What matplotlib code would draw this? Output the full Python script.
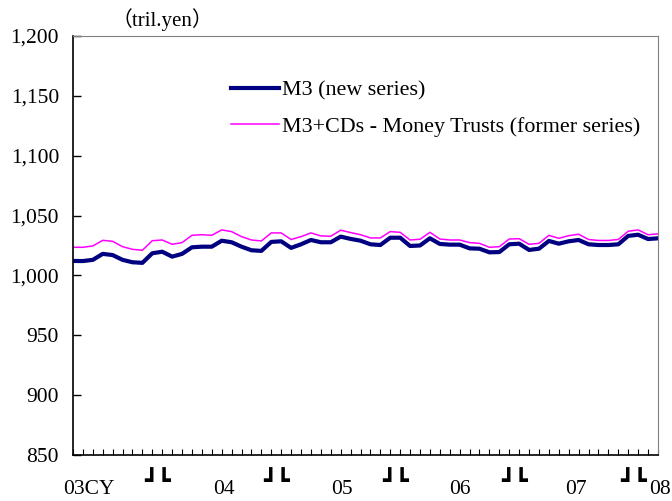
import matplotlib
matplotlib.use("Agg")
import matplotlib.pyplot as plt
from matplotlib.ticker import FuncFormatter, FixedLocator

plt.rcParams['font.family'] = ['Liberation Serif', 'Noto Sans CJK JP', 'DejaVu Sans']

# monthly, Apr 2003 - Mar 2008 (tril. yen)
m3_new = [1012.1, 1012.0, 1013.0, 1018.0, 1017.0, 1013.0, 1011.0, 1010.5, 1018.5, 1019.8,
          1015.7, 1018.0, 1023.5, 1024.0, 1024.0, 1029.0, 1027.7, 1024.0, 1021.0, 1020.5,
          1028.0, 1028.5, 1023.0, 1026.0, 1029.6, 1027.7, 1027.7, 1032.4, 1030.5, 1029.0,
          1026.0, 1025.4, 1031.5, 1031.5, 1024.6, 1025.0, 1031.0, 1026.3, 1025.7, 1025.7,
          1022.6, 1022.3, 1019.3, 1019.5, 1026.0, 1026.5, 1021.3, 1022.3, 1028.8, 1026.5,
          1028.5, 1029.6, 1026.0, 1025.4, 1025.4, 1026.0, 1033.0, 1034.0, 1030.4, 1031.0]
m3cd_former = [1023.5, 1023.5, 1024.6, 1029.3, 1028.5, 1024.0, 1021.8, 1021.0, 1029.0, 1029.6,
               1026.0, 1027.4, 1033.5, 1034.0, 1033.5, 1038.0, 1036.6, 1032.4, 1029.6, 1028.8,
               1035.5, 1035.5, 1030.0, 1032.4, 1035.5, 1033.0, 1032.7, 1037.8, 1035.8, 1034.0,
               1031.3, 1031.3, 1036.6, 1036.0, 1029.6, 1030.2, 1036.0, 1030.4, 1029.6, 1029.6,
               1027.4, 1026.8, 1023.5, 1024.0, 1030.4, 1030.7, 1026.0, 1026.8, 1033.5, 1031.0,
               1033.2, 1034.4, 1030.0, 1029.2, 1029.2, 1030.0, 1036.9, 1038.0, 1034.0, 1034.7]

year_labels = ["03CY", "04", "05", "06", "07", "08"]
year_pos = [1.6, 15.2, 27.1, 39.0, 50.7, 59.2]
sep_pos = [8.5, 20.5, 32.5, 44.5, 56.5]

y_ticks = [850, 900, 950, 1000, 1050, 1100, 1150, 1200]

fig = plt.figure(figsize=(6.72, 5.01), dpi=100)
ax = fig.add_axes([0.1086, 0.0918, 0.8705, 0.8364])

x = list(range(len(m3_new)))
ax.plot(x, m3_new, color='#000080', lw=3.0, label='M3 (new series)')
ax.plot(x, m3cd_former, color='#FF00FF', lw=1.1, label='M3+CDs - Money Trusts (former series)')

ax.set_xlim(0, len(x) - 1)
ax.set_ylim(850, 1200)
ax.set_yticks(y_ticks)
ax.yaxis.set_major_formatter(FuncFormatter(lambda v, p: "{:,.0f}".format(v)))
ax.tick_params(axis='y', direction='in', length=6, width=1, labelsize=15.5, pad=10)

# monthly minor ticks along the bottom, no labels
ax.xaxis.set_major_locator(FixedLocator([]))
ax.xaxis.set_minor_locator(FixedLocator(x))
ax.tick_params(axis='x', which='minor', direction='in', length=4, width=0.8)

for s in ['top', 'right']:
    ax.spines[s].set_color('#808080')
for s in ['left', 'bottom']:
    ax.spines[s].set_color('black')
    ax.spines[s].set_linewidth(1.2)

tr = ax.get_xaxis_transform()
for lab, p in zip(year_labels, year_pos):
    ax.text(p, -0.083, lab, transform=tr, ha='center', va='center', fontsize=15.5)
for p in sep_pos:
    ax.text(p, -0.064, "┛┗", transform=tr, ha='center', va='center', fontsize=16,
            family='DejaVu Sans')

ax.text(0.152, 1.04, "（tril.yen）", transform=ax.transAxes, ha='center', va='center',
        fontsize=15)

ax.legend(loc='upper left', bbox_to_anchor=(0.255, 0.915), frameon=False, fontsize=15.8,
          handlelength=2.2, handletextpad=0.15, labelspacing=0.72, borderaxespad=0)

fig.savefig("out.png", dpi=100)
